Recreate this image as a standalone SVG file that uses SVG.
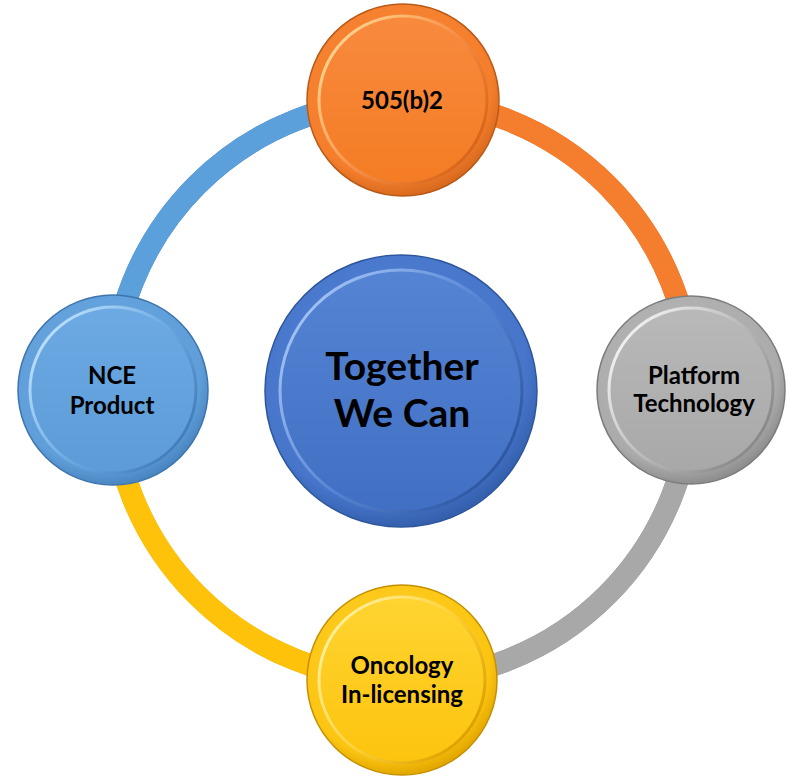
<svg xmlns="http://www.w3.org/2000/svg" width="788" height="777" viewBox="0 0 788 777">
<style>
.lbl{font-family:Lato,"Open Sans","Liberation Sans",sans-serif;font-weight:bold;fill:#000;text-anchor:middle}
.ring{fill:none;stroke-width:22;stroke-linecap:butt}
.rimo{stroke-width:1.5}
.inner{stroke-width:3}
</style>
<defs>
<radialGradient id="gO" cx="0.45" cy="0.4" r="0.6"><stop offset="0" stop-color="#FA8B3A"/><stop offset="0.85" stop-color="#F47E2C"/><stop offset="1" stop-color="#D96A1E"/></radialGradient>
<linearGradient id="iO" x1="0" y1="0" x2="0" y2="1"><stop offset="0" stop-color="#F88A3E"/><stop offset="1" stop-color="#F47C24"/></linearGradient>
<linearGradient id="sO" x1="0.1" y1="0.2" x2="0.9" y2="0.8"><stop offset="0" stop-color="#FFD08A"/><stop offset="0.5" stop-color="#F7914A"/><stop offset="1" stop-color="#D9661A"/></linearGradient>

<radialGradient id="gG" cx="0.45" cy="0.4" r="0.6"><stop offset="0" stop-color="#BDBDBD"/><stop offset="0.85" stop-color="#ABABAB"/><stop offset="1" stop-color="#8E8E8E"/></radialGradient>
<linearGradient id="iG" x1="0" y1="0" x2="0" y2="1"><stop offset="0" stop-color="#B9B9B9"/><stop offset="1" stop-color="#A8A8A8"/></linearGradient>
<linearGradient id="sG" x1="0.1" y1="0.2" x2="0.9" y2="0.8"><stop offset="0" stop-color="#EFEFEF"/><stop offset="0.5" stop-color="#BBBBBB"/><stop offset="1" stop-color="#8A8A8A"/></linearGradient>

<radialGradient id="gY" cx="0.45" cy="0.4" r="0.6"><stop offset="0" stop-color="#FFD22E"/><stop offset="0.85" stop-color="#FCC512"/><stop offset="1" stop-color="#E3A800"/></radialGradient>
<linearGradient id="iY" x1="0" y1="0" x2="0" y2="1"><stop offset="0" stop-color="#FFD431"/><stop offset="1" stop-color="#FCC40E"/></linearGradient>
<linearGradient id="sY" x1="0.1" y1="0.2" x2="0.9" y2="0.8"><stop offset="0" stop-color="#FFEE99"/><stop offset="0.5" stop-color="#FFD23A"/><stop offset="1" stop-color="#DDA200"/></linearGradient>

<radialGradient id="gB" cx="0.45" cy="0.4" r="0.6"><stop offset="0" stop-color="#6EAAE3"/><stop offset="0.85" stop-color="#5F9ED9"/><stop offset="1" stop-color="#4A86C2"/></radialGradient>
<linearGradient id="iB" x1="0" y1="0" x2="0" y2="1"><stop offset="0" stop-color="#6DAAE4"/><stop offset="1" stop-color="#5C9BD7"/></linearGradient>
<linearGradient id="sB" x1="0.1" y1="0.2" x2="0.9" y2="0.8"><stop offset="0" stop-color="#B9DDFB"/><stop offset="0.5" stop-color="#70ADE5"/><stop offset="1" stop-color="#447FBC"/></linearGradient>

<radialGradient id="gC" cx="0.45" cy="0.4" r="0.6"><stop offset="0" stop-color="#5384D6"/><stop offset="0.85" stop-color="#4675CA"/><stop offset="1" stop-color="#3560AE"/></radialGradient>
<linearGradient id="iC" x1="0" y1="0" x2="0" y2="1"><stop offset="0" stop-color="#5584D4"/><stop offset="1" stop-color="#416FC3"/></linearGradient>
<linearGradient id="sC" x1="0.1" y1="0.2" x2="0.9" y2="0.8"><stop offset="0" stop-color="#9EC0F2"/><stop offset="0.5" stop-color="#5A88D6"/><stop offset="1" stop-color="#2F58A3"/></linearGradient>
</defs>
<rect width="788" height="777" fill="#fff"/>
<g id="connectors">
<path class="ring" d="M112,390 A290,290 0 0 1 402,100" stroke="#4F88C4" stroke-width="24"/>
<path class="ring" d="M112,390 A290,290 0 0 1 402,100" stroke="#5B9FDB"/>
<path class="ring" d="M402,100 A290,290 0 0 1 692,390" stroke="#DF6E22" stroke-width="24"/>
<path class="ring" d="M402,100 A290,290 0 0 1 692,390" stroke="#F47E2E"/>
<path class="ring" d="M692,390 A290,290 0 0 1 402,680" stroke="#969696" stroke-width="24"/>
<path class="ring" d="M692,390 A290,290 0 0 1 402,680" stroke="#A8A8A8"/>
<path class="ring" d="M402,680 A290,290 0 0 1 112,390" stroke="#EAB000" stroke-width="24"/>
<path class="ring" d="M402,680 A290,290 0 0 1 112,390" stroke="#FFC20A"/>
</g>
<g id="center">
<circle cx="401" cy="391" r="136" fill="url(#gC)" stroke="#2E569C" class="rimo"/>
<circle cx="401" cy="391" r="121" fill="url(#iC)" stroke="url(#sC)" class="inner"/>
<text class="lbl" x="402" y="380" font-size="39">Together</text>
<text class="lbl" x="402" y="427" font-size="39">We Can</text>
</g>
<g id="n505">
<circle cx="403" cy="100" r="96" fill="url(#gO)" stroke="#B85A18" class="rimo"/>
<circle cx="403" cy="100" r="84" fill="url(#iO)" stroke="url(#sO)" class="inner"/>
<text class="lbl" x="402" y="109" font-size="24">505(b)2</text>
</g>
<g id="platform">
<circle cx="691" cy="390" r="94" fill="url(#gG)" stroke="#7C7C7C" class="rimo"/>
<circle cx="691" cy="390" r="82" fill="url(#iG)" stroke="url(#sG)" class="inner"/>
<text class="lbl" x="694" y="384" font-size="24">Platform</text>
<text class="lbl" x="694" y="412" font-size="24">Technology</text>
</g>
<g id="oncology">
<circle cx="402" cy="680" r="95" fill="url(#gY)" stroke="#C49000" class="rimo"/>
<circle cx="402" cy="680" r="83" fill="url(#iY)" stroke="url(#sY)" class="inner"/>
<text class="lbl" x="402" y="674" font-size="24">Oncology</text>
<text class="lbl" x="402" y="703" font-size="24">In-licensing</text>
</g>
<g id="nce">
<circle cx="113" cy="390" r="95" fill="url(#gB)" stroke="#3E74AD" class="rimo"/>
<circle cx="113" cy="390" r="83" fill="url(#iB)" stroke="url(#sB)" class="inner"/>
<text class="lbl" x="112" y="384" font-size="24">NCE</text>
<text class="lbl" x="112" y="414" font-size="24">Product</text>
</g>
</svg>
